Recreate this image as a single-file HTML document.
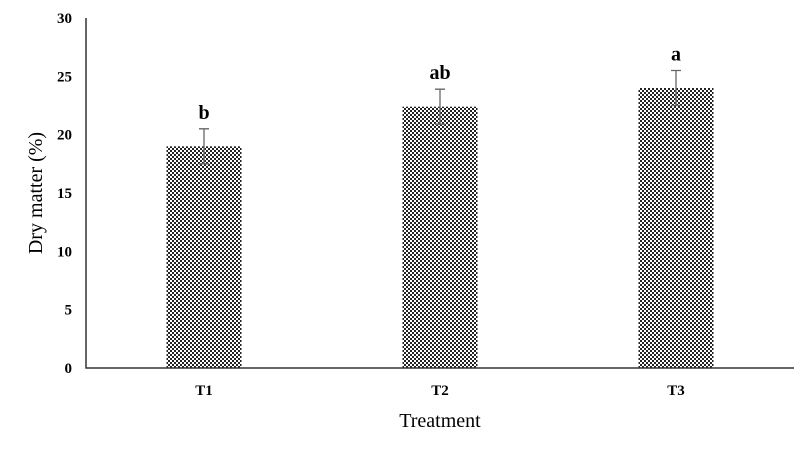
<!DOCTYPE html>
<html><head><style>
body{margin:0;background:#fff;}
text{font-family:"Liberation Serif",serif;}
</style></head><body>
<svg id="chart" width="800" height="444" xmlns="http://www.w3.org/2000/svg">
<defs>
<pattern id="chk" width="4" height="4" patternUnits="userSpaceOnUse">
<rect width="4" height="4" fill="#fff"/>
<rect width="2" height="2" fill="#222"/>
<rect x="2" y="2" width="2" height="2" fill="#222"/>
</pattern>
</defs>
<g id="g"></g>
</svg>
<script>
const categories=["T1","T2","T3"];
const values=[19,22.4,24];
const errors=[1.5,1.5,1.5];
const letters=["b","ab","a"];
const yTicks=[0,5,10,15,20,25,30];
const X0=86,X1=794,Y0=368,Y1=18,YMAX=30;
const ns="http://www.w3.org/2000/svg";
const g=document.getElementById('g');
const y=v=>Y0-(v/YMAX)*(Y0-Y1);
const band=(X1-X0)/categories.length;
const xc=i=>X0+band*(i+0.5);
function mk(t,a,p){const e=document.createElementNS(ns,t);for(const k in a)e.setAttribute(k,a[k]);(p||g).appendChild(e);return e;}
yTicks.forEach(v=>{
 const t=mk('text',{x:X0-14,y:y(v)+5,'text-anchor':'end','font-size':'15','font-weight':'bold'});
 t.textContent=v;
 
 
});
categories.forEach((c,i)=>{
 const bw=75;
 const r=mk('rect',{x:xc(i)-bw/2,y:y(values[i]),width:bw,height:Y0-y(values[i]),fill:'url(#chk)'});
 
 
 const eb=mk('path',{d:`M${xc(i)} ${y(values[i]-errors[i])}V${y(values[i]+errors[i])}M${xc(i)-5} ${y(values[i]+errors[i])}H${xc(i)+5}M${xc(i)-5} ${y(values[i]-errors[i])}H${xc(i)+5}`,stroke:'#666','stroke-width':'1.3',fill:'none'});
 
 
 const l=mk('text',{x:xc(i),y:y(values[i]+errors[i])-10,'text-anchor':'middle','font-size':'20','font-weight':'bold'});
 l.textContent=letters[i];
 
 
 const tl=mk('text',{x:xc(i),y:Y0+27,'text-anchor':'middle','font-size':'15','font-weight':'bold'});
 tl.textContent=c;
 
 
});
const ax=mk('path',{d:`M${X0} ${Y1}V${Y0}H${X1}`,stroke:'#333','stroke-width':'1.5',fill:'none'});


const xt=mk('text',{x:440,y:427,'text-anchor':'middle','font-size':'20'});
xt.textContent='Treatment';


const yt=mk('text',{x:0,y:0,'text-anchor':'middle','font-size':'20',transform:'translate(42,193) rotate(-90)'});
yt.textContent='Dry matter (%)';


</script>
</body></html>
